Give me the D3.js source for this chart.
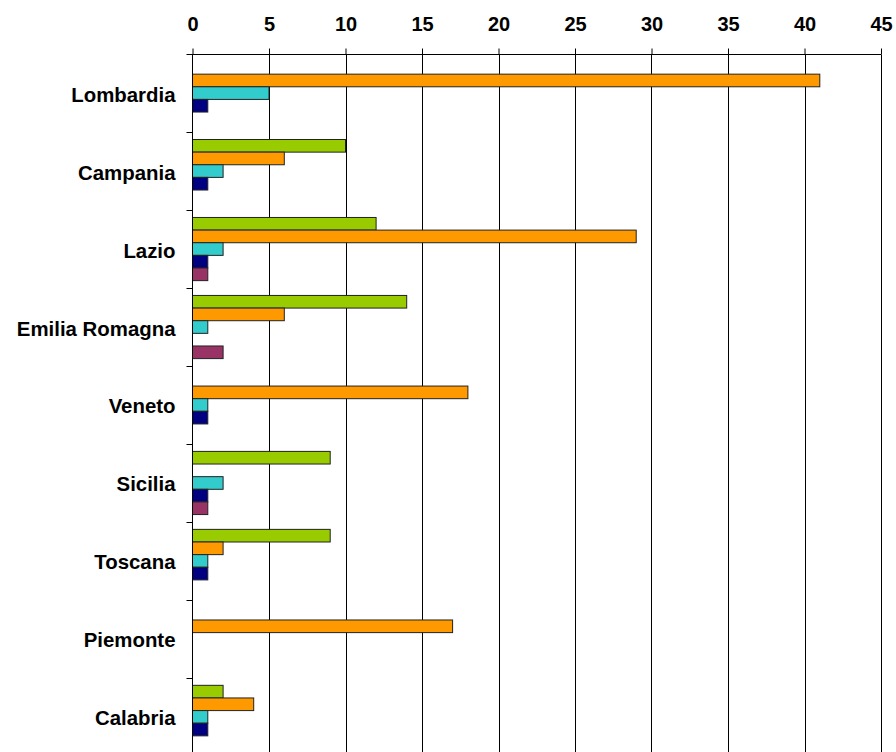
<!DOCTYPE html>
<html><head><meta charset="utf-8">
<script src="https://cdn.jsdelivr.net/npm/d3@7"></script>
<style>body{margin:0;background:#fff}svg{display:block}text{font-family:"Liberation Sans",Arial,sans-serif;font-weight:bold;fill:#000}</style>
</head><body><svg id="c" width="896" height="752"></svg>
<script>
const categories = ["Lombardia","Campania","Lazio","Emilia Romagna","Veneto","Sicilia","Toscana","Piemonte","Calabria"];
const seriesNames = ["s1","s2","s3","s4","s5"];
const seriesColors = ["#99CC00","#FF9900","#33CCCC","#000080","#993366"];
const s1 = [0,10,12,14,0,9,9,0,2];
const s2 = [41,6,29,6,18,0,2,17,4];
const s3 = [5,2,2,1,1,2,1,0,1];
const s4 = [1,1,1,0,1,1,1,0,1];
const s5 = [0,0,1,2,0,1,0,0,0];
const xTicks = [0,5,10,15,20,25,30,35,40,45];
const seriesValues = [s1,s2,s3,s4,s5];

const svg = d3.select("#c");
const pL = 192.5, pR = 881, pT = 54.5, pB = 755.5;
const x = d3.scaleLinear().domain([0,45]).range([pL,pR]);
const y = d3.scaleBand().domain(categories).range([pT,pB]).paddingInner(0.19).paddingOuter(0.09);
const yBand = d3.scaleBand().domain(categories).range([pT,pB]);
const ySub = d3.scaleBand().domain(seriesNames).range([0,y.bandwidth()]);

// gridlines
svg.append("g").selectAll("line").data(xTicks.slice(1)).join("line")
  .attr("x1",d=>Math.round(x(d))+0.5).attr("x2",d=>Math.round(x(d))+0.5)
  .attr("y1",pT).attr("y2",pB).attr("stroke","#000").attr("stroke-width",1);

// bars
const data = [];
categories.forEach((c,i)=>seriesNames.forEach((s,j)=>{ if(seriesValues[j][i]>0) data.push({c,s,v:seriesValues[j][i],col:seriesColors[j]}); }));
svg.append("g").selectAll("rect").data(data).join("rect")
  .attr("x",x(0)).attr("y",d=>y(d.c)+ySub(d.s))
  .attr("width",d=>x(d.v)-x(0)).attr("height",ySub.bandwidth())
  .attr("fill",d=>d.col).attr("stroke","#222").attr("stroke-width",1);

// top axis
const xa = svg.append("g").attr("transform",`translate(0,${pT})`)
  .call(d3.axisTop(x).tickValues(xTicks).tickSize(6).tickPadding(18));
xa.select(".domain").remove();
xa.append("line").attr("x1",pL-6).attr("x2",pR).attr("y1",0).attr("y2",0).attr("stroke","#000");
xa.selectAll(".tick line").attr("stroke","#000");
xa.selectAll(".tick text").attr("font-size","20px").style("font-family",'"Liberation Sans",Arial,sans-serif').style("font-weight","bold");

// left axis
const ya = svg.append("g").attr("transform",`translate(${pL},0)`);
ya.append("line").attr("x1",0).attr("x2",0).attr("y1",pT).attr("y2",pB).attr("stroke","#000");
ya.selectAll("line.t").data(categories.slice(1)).join("line").attr("class","t")
  .attr("x1",-6).attr("x2",0).attr("y1",d=>Math.round(yBand(d))+0.5).attr("y2",d=>Math.round(yBand(d))+0.5).attr("stroke","#000");
ya.selectAll("text").data(categories).join("text")
  .attr("x",-17).attr("y",d=>yBand(d)+yBand.bandwidth()/2+3)
  .attr("text-anchor","end").attr("dominant-baseline","middle").attr("font-size","20.4px").text(d=>d);
</script></body></html>
